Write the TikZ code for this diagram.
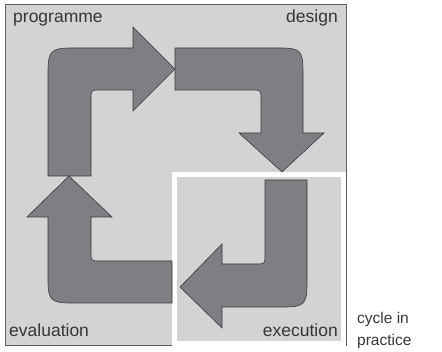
\documentclass[tikz,border=0pt]{standalone}
\usepackage{fontspec}
\setmainfont{Liberation Sans}
\definecolor{bgfill}{HTML}{D2D3D5}
\definecolor{arrfill}{HTML}{7E7F83}
\definecolor{arrline}{HTML}{3A3A3C}
\definecolor{frameline}{HTML}{5E5E60}
\definecolor{txt}{HTML}{363636}
\tikzset{
  cyclearrow/.style={fill=arrfill, draw=arrline, line width=0.6pt, line join=miter},
  lbl/.style={inner sep=0pt, text=txt, font=\fontsize{17.5}{20}\selectfont},
  caption/.style={inner sep=0pt, text=txt, font=\fontsize{15.5}{22}\selectfont, align=left}
}
\begin{document}
\begin{tikzpicture}[x=1pt,y=-1pt]
\useasboundingbox (0,0) rectangle (442,352);
% outer box
\draw[fill=bgfill, draw=frameline, line width=1pt] (5,5) rectangle (346,346);
% white "in practice" frame
\draw[white, line width=4.5pt] (174.5,174.5) rectangle (343.5,343.5);
% programme arrow
\path[cyclearrow] (48,176) -- (48,72) .. controls (48,51) and (51,48) .. (72,48)
  -- (133,48) -- (133,27) -- (175,69) -- (133,111) -- (133,90) -- (98,90)
  .. controls (92,90) and (91,91) .. (91,97) -- (91,176) -- cycle;
% design arrow
\path[cyclearrow] (175,48) -- (280,48) .. controls (301,48) and (303,51) .. (303,72)
  -- (303,133) -- (324,133) -- (282,172) -- (239,133) -- (261,133) -- (261,97)
  .. controls (261,91) and (260,90) .. (254,90) -- (175,90) -- cycle;
% execution arrow
\path[cyclearrow] (265,180) -- (307,180) -- (307,284) .. controls (307,304) and (304,307) .. (284,307)
  -- (222,307) -- (222,328) -- (180,287) -- (222,244) -- (222,264) -- (258,264)
  .. controls (264,264) and (265,263) .. (265,257) -- cycle;
% evaluation arrow
\path[cyclearrow] (172,261) -- (98,261) .. controls (92,261) and (91,260) .. (91,254)
  -- (91,217) -- (112,217) -- (69,176) -- (27,217) -- (48,217) -- (48,280)
  .. controls (48,300) and (51,303) .. (71,303) -- (172,303) -- cycle;
% labels
\node[lbl, anchor=base west] (programme) at (13,23) {programme};
\node[lbl, anchor=base east] (design) at (338,23) {design};
\node[lbl, anchor=base west] (evaluation) at (9,337) {evaluation};
\node[lbl, anchor=base east] (execution) at (338,337) {execution};
\node[caption, anchor=base west] (cyclein) at (357,324) {cycle in};
\node[caption, anchor=base west] (practice) at (357,346) {practice};
\end{tikzpicture}
\end{document}
